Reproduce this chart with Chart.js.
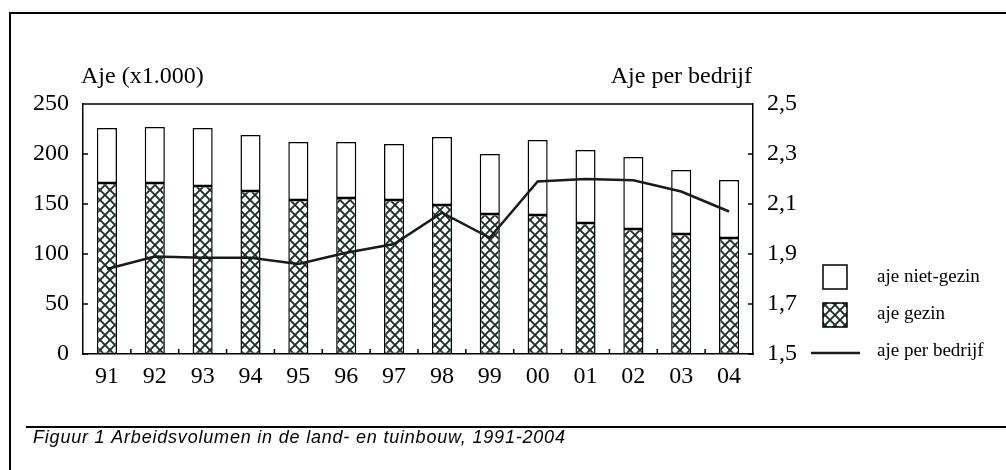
<!DOCTYPE html>
<html>
<head>
<meta charset="utf-8">
<script src="https://cdn.jsdelivr.net/npm/chart.js@4"></script>
<style>
  html, body { margin: 0; padding: 0; background: #fff; }
  #chart { display: block; }
</style>
</head>
<body>
<canvas id="chart" width="1006" height="470"></canvas>
<script>
// data
var years = ['91','92','93','94','95','96','97','98','99','00','01','02','03','04'];
var ajeGezin = [171,171,168,163,154,156,154,149,140,139,131,125,120,116];
var ajeNietGezin = [55,56,58,56,58,56,56,68,60,75,73,72,64,58];
var ajePerBedrijf = [1.84,1.89,1.885,1.885,1.86,1.905,1.94,2.065,1.965,2.19,2.2,2.195,2.15,2.07];
var leftTickLabels = ['0','50','100','150','200','250'];
var rightTickLabels = ['1,5','1,7','1,9','2,1','2,3','2,5'];

var serif = '"Liberation Serif", "Times New Roman", serif';

// cross hatch fill for "aje gezin"
var hatch = (function () {
  var c = document.createElement('canvas');
  c.width = 10; c.height = 10;
  var g = c.getContext('2d');
  g.fillStyle = '#fff';
  g.fillRect(0, 0, 10, 10);
  g.strokeStyle = '#1b302b';
  g.lineWidth = 1.9;
  g.beginPath();
  g.moveTo(-1, -1); g.lineTo(11, 11);
  g.moveTo(11, -1); g.lineTo(-1, 11);
  g.stroke();
  return g.createPattern(c, 'repeat');
})();

var extras = {
  id: 'extras',
  afterDraw: function (chart) {
    var ctx = chart.ctx, a = chart.chartArea;
    var sy = chart.scales.y, sy1 = chart.scales.y1;
    ctx.save();
    ctx.strokeStyle = '#000';

    // page frame + caption rule
    ctx.lineWidth = 2;
    ctx.beginPath();
    ctx.moveTo(10, 13); ctx.lineTo(1006, 13);
    ctx.moveTo(10, 12); ctx.lineTo(10, 470);
    ctx.moveTo(26, 427); ctx.lineTo(1006, 427);
    ctx.stroke();

    // top of plot box and inward ticks
    ctx.lineWidth = 1.5;
    ctx.beginPath();
    ctx.moveTo(a.left, a.top); ctx.lineTo(a.right, a.top);
    sy.ticks.forEach(function (t) {
      var y = sy.getPixelForValue(t.value);
      ctx.moveTo(a.left, y); ctx.lineTo(a.left + 5, y);
    });
    sy1.ticks.forEach(function (t) {
      var y = sy1.getPixelForValue(t.value);
      ctx.moveTo(a.right, y); ctx.lineTo(a.right - 5, y);
    });
    var step = (a.right - a.left) / years.length;
    for (var i = 1; i < years.length; i++) {
      var x = a.left + step * i;
      ctx.moveTo(x, a.bottom); ctx.lineTo(x, a.bottom - 5);
    }
    ctx.stroke();

    // axis titles
    ctx.fillStyle = '#000';
    ctx.font = '24px ' + serif;
    ctx.textBaseline = 'alphabetic';
    ctx.textAlign = 'left';
    ctx.fillText('Aje (x1.000)', 81, 83);
    ctx.textAlign = 'right';
    ctx.fillText('Aje per bedrijf', 752, 83);

    // legend
    var ds = chart.data.datasets;
    ctx.lineWidth = 1.5;
    ctx.fillStyle = ds[1].backgroundColor;
    ctx.fillRect(823, 265, 24, 24);
    ctx.strokeRect(823, 265, 24, 24);
    ctx.fillStyle = ds[0].backgroundColor;
    ctx.fillRect(823, 303, 24, 24);
    ctx.strokeRect(823, 303, 24, 24);
    ctx.strokeStyle = ds[2].borderColor;
    ctx.lineWidth = 2.5;
    ctx.beginPath();
    ctx.moveTo(811, 353); ctx.lineTo(860, 353);
    ctx.stroke();
    ctx.fillStyle = '#000';
    ctx.font = '19px ' + serif;
    ctx.textAlign = 'left';
    ctx.textBaseline = 'middle';
    ctx.fillText(ds[1].label, 877, 277);
    ctx.fillText(ds[0].label, 877, 314);
    ctx.fillText(ds[2].label, 877, 351);

    // caption
    ctx.font = 'italic 18px "Liberation Sans", Arial, sans-serif';
    ctx.textBaseline = 'alphabetic';
    ctx.letterSpacing = '0.8px';
    ctx.fillText('Figuur 1 Arbeidsvolumen in de land- en tuinbouw, 1991-2004', 33, 443);
    ctx.restore();
  }
};

new Chart(document.getElementById('chart'), {
  type: 'bar',
  data: {
    labels: years,
    datasets: [{
      label: 'aje gezin',
      data: ajeGezin,
      backgroundColor: hatch,
      borderColor: '#000',
      borderWidth: 1.5,
      borderSkipped: false,
      barPercentage: 0.42,
      categoryPercentage: 1,
      order: 2
    }, {
      label: 'aje niet-gezin',
      data: ajeNietGezin,
      backgroundColor: '#fff',
      borderColor: '#000',
      borderWidth: 1.5,
      borderSkipped: false,
      barPercentage: 0.42,
      categoryPercentage: 1,
      order: 2
    }, {
      type: 'line',
      label: 'aje per bedrijf',
      data: ajePerBedrijf,
      yAxisID: 'y1',
      borderColor: '#1a1a1a',
      borderWidth: 2.5,
      pointRadius: 0,
      tension: 0,
      fill: false,
      order: 1
    }]
  },
  options: {
    responsive: false,
    animation: false,
    layout: { padding: { top: 104, left: 0, right: 0, bottom: 0 } },
    scales: {
      x: {
        stacked: true,
        grid: { display: false, drawTicks: false },
        border: { display: true, color: '#000', width: 1.5 },
        ticks: { color: '#000', padding: 8, font: { family: serif, size: 24 }, maxRotation: 0 },
        afterFit: function (s) { s.height = 116; }
      },
      y: {
        stacked: true,
        position: 'left',
        min: 0, max: 250,
        grid: { display: false, drawTicks: false },
        border: { display: true, color: '#000', width: 1.5 },
        ticks: {
          stepSize: 50, color: '#000', padding: 14,
          font: { family: serif, size: 24 },
          callback: function (v, i) { return leftTickLabels[i]; }
        },
        afterFit: function (s) { s.width = 83; }
      },
      y1: {
        position: 'right',
        min: 1.5, max: 2.5,
        grid: { display: false, drawTicks: false },
        border: { display: true, color: '#000', width: 1.5 },
        ticks: {
          stepSize: 0.2, color: '#000', padding: 14,
          font: { family: serif, size: 24 },
          callback: function (v, i) { return rightTickLabels[i]; }
        },
        afterFit: function (s) { s.width = 253; }
      }
    },
    plugins: {
      legend: { display: false },
      tooltip: { enabled: false }
    }
  },
  plugins: [extras]
});
</script>
</body>
</html>
